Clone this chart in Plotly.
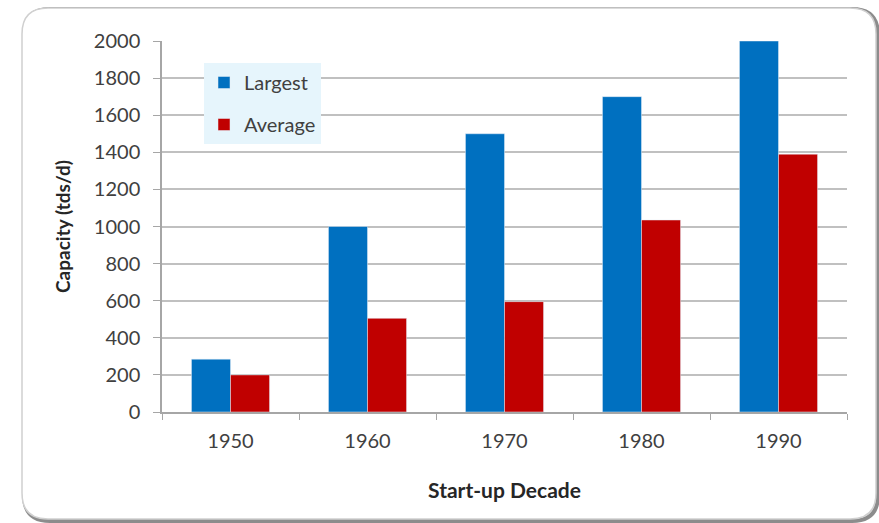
import plotly.graph_objects as go

decades = ["1950", "1960", "1970", "1980", "1990"]
largest = [285, 1000, 1500, 1700, 2000]
average = [200, 505, 595, 1035, 1390]
y_ticks = [0, 200, 400, 600, 800, 1000, 1200, 1400, 1600, 1800, 2000]

W, H = 879, 523
L, R, T, B = 162, 32, 41, 111
pw, ph = W - L - R, H - T - B

def X(px):
    return (px - L) / pw

def Y(py):
    return (H - B - py) / ph

def rounded(x0, y0, x1, y1, r):
    return (f"M {X(x0+r)},{Y(y0)} L {X(x1-r)},{Y(y0)} Q {X(x1)},{Y(y0)} {X(x1)},{Y(y0+r)} "
            f"L {X(x1)},{Y(y1-r)} Q {X(x1)},{Y(y1)} {X(x1-r)},{Y(y1)} "
            f"L {X(x0+r)},{Y(y1)} Q {X(x0)},{Y(y1)} {X(x0)},{Y(y1-r)} "
            f"L {X(x0)},{Y(y0+r)} Q {X(x0)},{Y(y0)} {X(x0+r)},{Y(y0)} Z")

FONT = "Lato, 'Open Sans', sans-serif"

fig = go.Figure()
fig.add_trace(go.Bar(x=decades, y=largest, name="Largest", marker_color="#0070C0",
                     legendgroup="a"))
fig.add_trace(go.Bar(x=decades, y=average, name="Average", marker_color="#C00000",
                     legendgroup="b"))

fig.update_layout(
    width=W, height=H,
    margin=dict(l=L, r=R, t=T, b=B),
    paper_bgcolor="white", plot_bgcolor="white",
    barmode="group", bargap=0.43, bargroupgap=0,
    font=dict(family=FONT, color="#404040", size=20),
    legend=dict(x=X(204), y=Y(63), xanchor="left", yanchor="top",
                bgcolor="#e6f5fc", font=dict(size=20, color="#404040"),
                traceorder="grouped", tracegroupgap=13,
                itemwidth=30),
    xaxis=dict(type="category", tickson="boundaries", ticks="outside", ticklen=6,
               tickcolor="#a6a6a6", showline=True, linecolor="#a6a6a6", linewidth=1.5,
               showgrid=False, tickfont=dict(size=20, color="#404040"),
               ticklabelstandoff=10,
               title=dict(text="<b>Start-up Decade</b>", font=dict(size=21, color="#262626"),
                          standoff=33)),
    yaxis=dict(range=[0, 2000], tickvals=y_ticks, ticks="outside", ticklen=7,
               tickcolor="#a6a6a6", showline=True, linecolor="#a6a6a6", linewidth=1.5,
               showgrid=True, gridcolor="#c0c0c0", gridwidth=1.5, zeroline=False,
               tickfont=dict(size=20, color="#404040"),
               ticklabelstandoff=9,
               title=dict(text="<b>Capacity (tds/d)</b>", font=dict(size=19, color="#262626"),
                          standoff=18)),
    shapes=[
        dict(type="path", xref="paper", yref="paper", path=rounded(24, 9, 878, 521, 26),
             line=dict(color="#8c8c8c", width=4), layer="below"),
        dict(type="path", xref="paper", yref="paper", path=rounded(22, 8, 876, 519, 26),
             line=dict(color="#d0d0d0", width=1.5), fillcolor="white", layer="below"),
    ],
)

fig.write_html("out.html")
